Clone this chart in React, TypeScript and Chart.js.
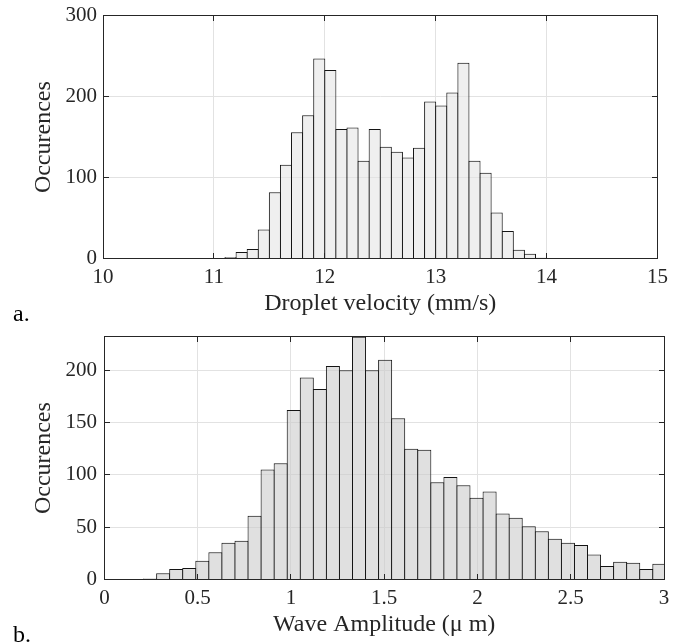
import React, { useEffect, useRef } from "react";
import { Chart, registerables } from "chart.js";

Chart.register(...registerables);

// ---- Data: panel a (droplet velocity histogram) ----
const velocityBinStart = 10;
const velocityBinWidth = 0.1;
const velocityCounts = [
  0, 0, 0, 0, 0, 0, 0, 0, 0, 0,
  0, 2, 8, 12, 36, 82, 116, 156, 177, 247,
  233, 160, 162, 121, 160, 138, 132, 125, 137, 194,
  189, 205, 242, 121, 106, 57, 34, 11, 6, 1,
  0, 0, 0, 0, 0, 0, 0, 0, 0, 0,
];
const velocityXTicks = [10, 11, 12, 13, 14, 15];
const velocityYTicks = [0, 100, 200, 300];

// ---- Data: panel b (wave amplitude histogram) ----
const amplitudeBinStart = 0;
const amplitudeBinWidth = 0.07;
const amplitudeCounts = [
  0, 0, 0, 1, 6, 10, 11, 18, 26, 35,
  37, 61, 105, 111, 162, 193, 182, 204, 200, 232,
  200, 210, 154, 125, 124, 93, 98, 90, 78, 84,
  63, 59, 51, 46, 39, 35, 33, 24, 13, 17,
  16, 10, 15,
];
const amplitudeXTicks = [0, 0.5, 1, 1.5, 2, 2.5, 3];
const amplitudeYTicks = [0, 50, 100, 150, 200];

const SERIF = '"Liberation Serif", "Times New Roman", serif';
const TEXT = "#262626";

const align = (p: number) => Math.round(p - 0.5) + 0.5;

const framePlugin = {
  id: "matlabFrame",
  afterDraw(chart: any) {
    const { ctx, chartArea: a, scales } = chart;
    const L = align(a.left), R = align(a.right), T = align(a.top), B = align(a.bottom);
    const len = 5.5;
    ctx.save();
    ctx.strokeStyle = TEXT;
    ctx.lineWidth = 1;
    ctx.beginPath();
    for (const t of scales.x.ticks) {
      const px = align(scales.x.getPixelForValue(t.value));
      ctx.moveTo(px, B); ctx.lineTo(px, B - len);
      ctx.moveTo(px, T); ctx.lineTo(px, T + len);
    }
    for (const t of scales.y.ticks) {
      const py = align(scales.y.getPixelForValue(t.value));
      ctx.moveTo(L, py); ctx.lineTo(L + len, py);
      ctx.moveTo(R, py); ctx.lineTo(R - len, py);
    }
    ctx.stroke();
    ctx.strokeRect(L, T, R - L, B - T);
    ctx.restore();
  },
};

type Panel = {
  counts: number[];
  binStart: number;
  binWidth: number;
  xMin: number;
  xMax: number;
  yMax: number;
  xTicks: number[];
  yTicks: number[];
  xTitle: string;
  fill: string;
  padTop: number;
  padRight: number;
  yAxisWidth: number;
  xAxisHeight: number;
  plotWidth: number;
  xTickPad: number;
  xTitlePad: number;
  yTickPad: number;
  yTitlePad: number;
};

function makeConfig(p: Panel): any {
  const points = p.counts.map((c, i) => ({
    x: p.binStart + (i + 0.5) * p.binWidth,
    y: c,
  }));
  const binPx = (p.plotWidth / (p.xMax - p.xMin)) * p.binWidth;
  return {
    type: "bar",
    data: {
      datasets: [
        {
          data: points,
          backgroundColor: p.fill,
          borderColor: "#141414",
          borderWidth: 1,
          borderSkipped: "start",
          inflateAmount: 0,
          categoryPercentage: 1,
          barPercentage: 1 + 1 / binPx,
        },
      ],
    },
    options: {
      responsive: false,
      animation: false,
      layout: { padding: { top: p.padTop, right: p.padRight, left: 0, bottom: 0 } },
      plugins: { legend: { display: false }, tooltip: { enabled: false } },
      scales: {
        x: {
          type: "linear",
          min: p.xMin,
          max: p.xMax,
          offset: false,
          grid: { color: "#e2e2e2", lineWidth: 1, drawTicks: false, offset: false },
          border: { display: false },
          ticks: {
            color: TEXT,
            font: { family: SERIF, size: 21 },
            padding: p.xTickPad,
            maxRotation: 0,
            autoSkip: false,
            includeBounds: false,
            callback: (v: number) => String(v),
          },
          afterBuildTicks: (s: any) => {
            s.ticks = p.xTicks.map((v) => ({ value: v }));
          },
          afterFit: (s: any) => {
            s.height = p.xAxisHeight;
            s.paddingLeft = 0;
            s.paddingRight = 0;
          },
          title: {
            display: true,
            text: p.xTitle,
            color: TEXT,
            font: { family: SERIF, size: 24 },
            padding: { top: 0, bottom: p.xTitlePad },
          },
        },
        y: {
          type: "linear",
          min: 0,
          max: p.yMax,
          grid: { color: "#e2e2e2", lineWidth: 1, drawTicks: false },
          border: { display: false },
          ticks: {
            color: TEXT,
            font: { family: SERIF, size: 21 },
            padding: p.yTickPad,
            includeBounds: false,
            callback: (v: number) => String(v),
          },
          afterBuildTicks: (s: any) => {
            s.ticks = p.yTicks.map((v) => ({ value: v }));
          },
          afterFit: (s: any) => {
            s.width = p.yAxisWidth;
            s.paddingTop = 0;
            s.paddingBottom = 0;
          },
          title: {
            display: true,
            text: "Occurences",
            color: TEXT,
            font: { family: SERIF, size: 24 },
            padding: { top: p.yTitlePad, bottom: 0 },
          },
        },
      },
    },
    plugins: [framePlugin],
  };
}

export default function App() {
  const refA = useRef<HTMLCanvasElement>(null);
  const refB = useRef<HTMLCanvasElement>(null);

  useEffect(() => {
    const chartA = new Chart(
      refA.current!,
      makeConfig({
        counts: velocityCounts,
        binStart: velocityBinStart,
        binWidth: velocityBinWidth,
        xMin: 10,
        xMax: 15,
        yMax: 300,
        xTicks: velocityXTicks,
        yTicks: velocityYTicks,
        xTitle: "Droplet velocity (mm/s)",
        fill: "rgba(228,228,228,0.6)",
        padTop: 15.7,
        padRight: 25.5,
        yAxisWidth: 103,
        xAxisHeight: 71.4,
        plotWidth: 554.5,
        xTickPad: 6,
        xTitlePad: 11.6,
        yTickPad: 6,
        yTitlePad: 29.1,
      })
    );
    const chartB = new Chart(
      refB.current!,
      makeConfig({
        counts: amplitudeCounts,
        binStart: amplitudeBinStart,
        binWidth: amplitudeBinWidth,
        xMin: 0,
        xMax: 3,
        yMax: 232,
        xTicks: amplitudeXTicks,
        yTicks: amplitudeYTicks,
        xTitle: "Wave Amplitude (\u03bc m)",
        fill: "rgba(203,203,203,0.6)",
        padTop: 6.7,
        padRight: 19,
        yAxisWidth: 104.4,
        xAxisHeight: 62.5,
        plotWidth: 559.6,
        xTickPad: 6,
        xTitlePad: 2.6,
        yTickPad: 7.5,
        yTitlePad: 29.6,
      })
    );
    return () => {
      chartA.destroy();
      chartB.destroy();
    };
  }, []);

  const label: React.CSSProperties = {
    position: "absolute",
    left: 13,
    fontFamily: SERIF,
    fontSize: 24,
    lineHeight: "24px",
    color: "#000",
  };

  return (
    <div
      style={{
        position: "absolute",
        left: 0,
        top: 0,
        width: 683,
        height: 642,
        background: "#fff",
        overflow: "hidden",
      }}
    >
      <canvas
        ref={refA}
        width={683}
        height={330}
        style={{ position: "absolute", left: 0, top: 0, width: 683, height: 330 }}
      />
      <canvas
        ref={refB}
        width={683}
        height={312}
        style={{ position: "absolute", left: 0, top: 330, width: 683, height: 312 }}
      />
      <div style={{ ...label, top: 301 }}>a.</div>
      <div style={{ ...label, top: 622 }}>b.</div>
    </div>
  );
}
